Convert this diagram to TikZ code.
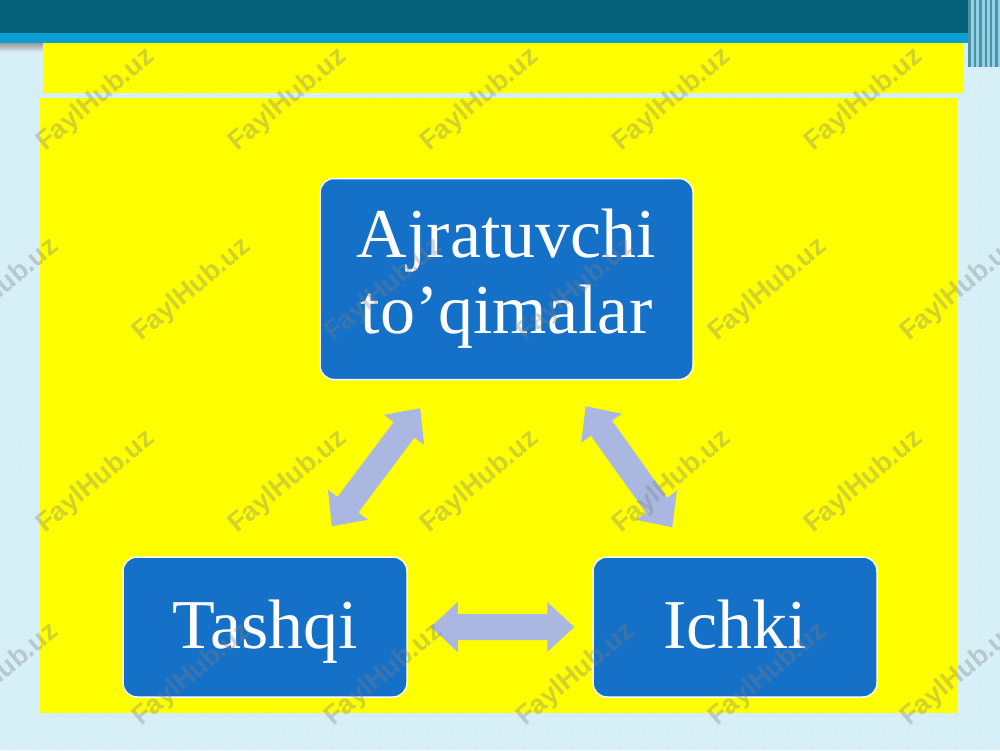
\documentclass[tikz,border=0pt]{standalone}
\usepackage{fontspec}
\setmainfont{Liberation Serif}
\newfontfamily\wmfont{Liberation Sans}
\usetikzlibrary{calc,patterns}

\definecolor{bgblue}{RGB}{216,241,249}
\definecolor{dotblue}{RGB}{192,224,236}
\definecolor{barteal}{RGB}{5,96,122}
\definecolor{barblue}{RGB}{12,158,208}
\definecolor{boxblue}{RGB}{21,112,200}
\definecolor{arrowblue}{RGB}{170,183,225}
\definecolor{slideyellow}{RGB}{255,255,0}

% double block arrow between two named coordinates
\newcommand\dblarrow[3]{%
  \coordinate (#3-hA) at ($(#1)!27pt!(#2)$);
  \coordinate (#3-hB) at ($(#2)!27pt!(#1)$);
  \fill[arrowblue] (#1) -- ($(#3-hA)!25pt!90:(#2)$) -- ($(#3-hA)!13pt!90:(#2)$)
    -- ($(#3-hB)!13pt!-90:(#1)$) -- ($(#3-hB)!25pt!-90:(#1)$) -- (#2)
    -- ($(#3-hB)!25pt!90:(#1)$) -- ($(#3-hB)!13pt!90:(#1)$)
    -- ($(#3-hA)!13pt!-90:(#2)$) -- ($(#3-hA)!25pt!-90:(#2)$) -- cycle;}

\begin{document}
\begin{tikzpicture}[x=1pt,y=-1pt,
  box/.style={draw=white, line width=1.5pt, fill=boxblue, rounded corners=14pt,
    text=white, font=\fontsize{70}{76}\selectfont, align=center, inner sep=0pt},
  wm/.style={text=gray, opacity=0.35, rotate=40, inner sep=0pt,
    font=\wmfont\bfseries\fontsize{27}{27}\selectfont}]
\useasboundingbox (0,0) rectangle (1000,750);

% background
\fill[bgblue] (0,0) rectangle (1000,750);
\fill[pattern=dots, pattern color=dotblue] (0,0) rectangle (1000,750);

% top bar
\fill[barteal] (0,0) rectangle (1000,33);
\fill[barblue] (0,33) rectangle (970,43);
\shade[top color=gray!80, bottom color=bgblue] (0,43) rectangle (43,52);
\fill[barblue!45!white] (968,0) rectangle (1000,67);
\foreach \x/\w in {968/3,974/2,979/3,985/2,990/2,995/3}
  \fill[barteal!70!white] (\x,0) rectangle ++(\w,67);

% yellow panels
\fill[slideyellow] (43,43) rectangle (964,93);
\fill[slideyellow] (40,98) rectangle (957,713);

% boxes
\node[box, minimum width=373pt, minimum height=201pt] (top) at (506.5,279)
  {Ajratuvchi\\to’qimalar};
\node[box, minimum width=284pt, minimum height=140pt,
  text height=48pt, text depth=6pt] (left) at (265,627) {Tashqi};
\node[box, minimum width=284pt, minimum height=140pt,
  text height=48pt, text depth=6pt] (right) at (735,627) {Ichki};

% connectors
\coordinate (lend) at ($(left.north east)+(-76,-30)$);
\coordinate (ltop) at ($(top.south west)+(101,28)$);
\coordinate (rtop) at ($(top.south east)+(-108,26)$);
\coordinate (rend) at ($(right.north west)+(80,-29)$);
\coordinate (hl) at ($(left.east)+(23,0)$);
\coordinate (hr) at ($(right.west)+(-18,0)$);
\dblarrow{lend}{ltop}{arL}
\dblarrow{rtop}{rend}{arR}
\dblarrow{hl}{hr}{arH}

% watermark
\foreach \x in {96,288,480,672,864}
  \foreach \y in {100,482}
    \node[wm] (wm-\x-\y) at (\x,\y) {FaylHub.uz};
\foreach \x in {0,192,384,576,768,960}
  \foreach \y in {290,675}
    \node[wm] (wm-\x-\y) at (\x,\y) {FaylHub.uz};
\end{tikzpicture}
\end{document}
